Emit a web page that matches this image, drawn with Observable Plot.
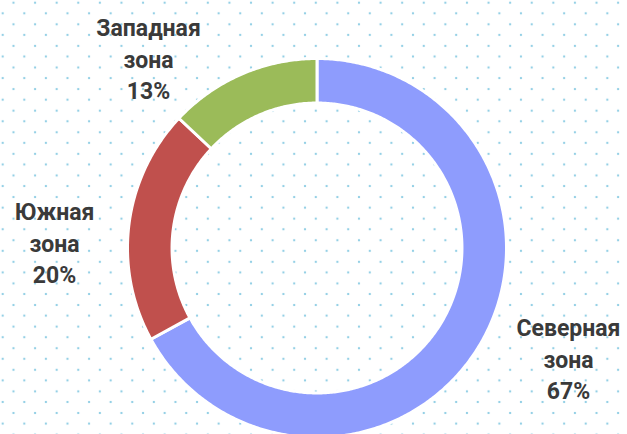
<!DOCTYPE html>
<html>
<head>
<meta charset="utf-8">
<script src="https://cdn.jsdelivr.net/npm/d3@7"></script>
<script src="https://cdn.jsdelivr.net/npm/@observablehq/plot@0.6"></script>
<style>
  html, body { margin: 0; padding: 0; background: #ffffff; }
  #chart {
    width: 627px; height: 434px; overflow: hidden;
    background-color: #ffffff;
    background-image:
      radial-gradient(circle, rgba(130,200,225,0.85) 0.7px, rgba(130,200,225,0) 1.6px),
      radial-gradient(circle, rgba(130,200,225,0.85) 0.7px, rgba(130,200,225,0) 1.6px);
    background-size: 21.6px 21.6px, 21.6px 21.6px;
    background-position: -8.1px 2.5px, 2.7px -8.1px;
  }
</style>
</head>
<body>
<div id="chart"></div>
<script>
// ---- data ----
const categories = ["Северная зона", "Южная зона", "Западная зона"];
const values = [67, 20, 13];
const colors = ["#8e9cfd", "#c0504d", "#9bbb59"];

// ---- layout (in units of the outer radius) ----
const innerRatio = 0.765;
const labelAnchors = [[1.327, -0.578], [-1.385, 0.034], [-0.889, 1.005]];

// build annular sector polygons from the values
const total = d3.sum(values);
let acc = 0;
const ringPoints = [];
values.forEach((v, i) => {
  const a0 = acc / total * 2 * Math.PI;
  acc += v;
  const a1 = acc / total * 2 * Math.PI;
  const n = Math.max(8, Math.ceil((a1 - a0) / 0.01));
  for (let k = 0; k <= n; k++) {
    const a = a0 + (a1 - a0) * k / n;
    ringPoints.push({cat: categories[i], x: Math.sin(a), y: Math.cos(a)});
  }
  for (let k = n; k >= 0; k--) {
    const a = a0 + (a1 - a0) * k / n;
    ringPoints.push({cat: categories[i], x: innerRatio * Math.sin(a), y: innerRatio * Math.cos(a)});
  }
});

const labels = categories.map((c, i) => ({
  text: c.replace(" ", "\n") + "\n" + values[i] + "%",
  x: labelAnchors[i][0],
  y: labelAnchors[i][1]
}));

const R = 189.5, cx = 316.5, cy = 247.5, W = 627, H = 434;
const plot = Plot.plot({
  width: W,
  height: H,
  margin: 0,
  style: {background: "transparent", overflow: "visible"},
  x: {domain: [-cx / R, (W - cx) / R], range: [0, W], axis: null},
  y: {domain: [-(H - cy) / R, cy / R], range: [H, 0], axis: null},
  color: {domain: categories, range: colors},
  marks: [
    Plot.line(ringPoints, {
      x: "x", y: "y", z: "cat",
      fill: "cat", stroke: "#ffffff", strokeWidth: 3,
      curve: "linear-closed"
    }),
    Plot.text(labels, {
      x: "x", y: "y", text: "text",
      fontSize: 23, fontWeight: "bold", fontFamily: "Roboto",
      fill: "#3a3a3a", lineHeight: 1.37, textAnchor: "middle"
    })
  ]
});
document.getElementById("chart").appendChild(plot);
</script>
</body>
</html>
